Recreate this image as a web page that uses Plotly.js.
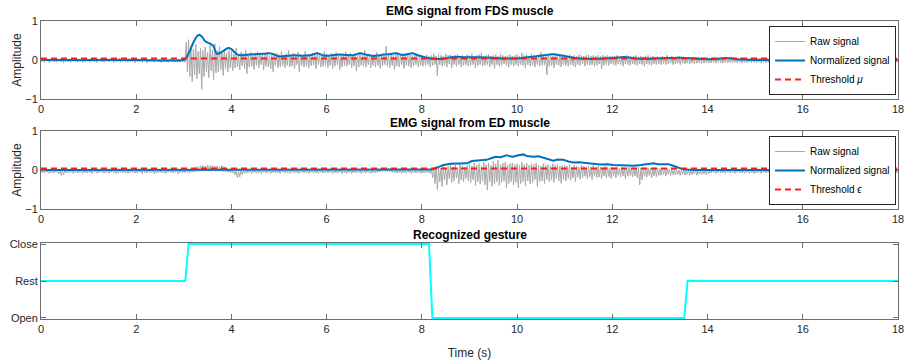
<!DOCTYPE html>
<html>
<head>
<meta charset="utf-8">
<script src="https://cdn.plot.ly/plotly-3.0.1.min.js"></script>
<style>html,body{margin:0;padding:0;background:#fff;}#chart{width:907px;height:360px;}</style>
</head>
<body>
<div id="chart"></div>
<script>
// ---------- DATA ----------
const sampleStep = 0.025; // seconds between raw samples

const rawFDS = [
 0.03,-0.05,0.02,-0.06,0.04,-0.03,0.01,-0.07,0.03,-0.04,0.02,-0.05,0.04,-0.06,0.01,-0.03,0.03,-0.05,0.02,-0.07,0.04,-0.04,0.01,-0.05,0.03,-0.06,0.02,-0.03,0.04,-0.05,0.01,-0.06,0.03,-0.04,0.02,-0.07,0.04,-0.05,0.01,-0.03,
 0.02,-0.06,0.04,-0.04,0.01,-0.05,0.03,-0.07,0.02,-0.03,0.04,-0.05,0.01,-0.06,0.03,-0.04,0.02,-0.05,0.04,-0.03,0.01,-0.07,0.03,-0.05,0.02,-0.04,0.04,-0.06,0.01,-0.03,0.03,-0.05,0.02,-0.06,0.04,-0.04,0.01,-0.05,0.03,-0.07,
 0.04,-0.05,0.01,-0.04,0.03,-0.06,0.02,-0.03,0.04,-0.07,0.01,-0.05,0.03,-0.04,0.02,-0.06,0.04,-0.03,0.01,-0.05,0.03,-0.07,0.02,-0.04,0.04,-0.05,0.01,-0.06,0.03,-0.03,0.02,-0.05,0.04,-0.04,0.01,-0.06,0.03,-0.05,0.02,-0.04,
 0.03,-0.06,0.45,-0.30,0.52,-0.42,0.35,-0.55,0.28,-0.38,0.40,-0.48,0.22,-0.35,0.30,-0.75,0.25,-0.42,0.33,-0.30,0.20,-0.45,0.38,-0.28,0.26,-0.50,0.42,-0.33,0.24,-0.30,0.35,-0.25,0.20,-0.40,0.28,-0.22,0.18,-0.30,0.25,-0.20,
 0.22,-0.28,0.15,-0.20,0.30,-0.18,0.12,-0.25,0.20,-0.15,0.18,-0.22,0.25,-0.35,0.14,-0.18,0.20,-0.16,0.12,-0.24,0.18,-0.14,0.22,-0.20,0.15,-0.12,0.18,-0.26,0.14,-0.16,0.20,-0.18,0.12,-0.22,0.16,-0.30,0.14,-0.15,0.18,-0.20,
 0.14,-0.18,0.22,-0.15,0.12,-0.20,0.16,-0.14,0.25,-0.18,0.12,-0.16,0.18,-0.22,0.14,-0.12,0.20,-0.30,0.15,-0.14,0.12,-0.18,0.22,-0.16,0.14,-0.20,0.12,-0.15,0.18,-0.14,0.16,-0.22,0.20,-0.12,0.14,-0.18,0.12,-0.16,0.22,-0.14,
 0.16,-0.20,0.12,-0.14,0.18,-0.22,0.14,-0.16,0.20,-0.12,0.15,-0.25,0.12,-0.18,0.16,-0.14,0.22,-0.16,0.14,-0.12,0.18,-0.20,0.12,-0.15,0.16,-0.28,0.14,-0.18,0.20,-0.14,0.12,-0.16,0.25,-0.18,0.14,-0.12,0.16,-0.20,0.12,-0.14,
 0.15,-0.18,0.20,-0.14,0.12,-0.22,0.16,-0.15,0.18,-0.12,0.35,-0.16,0.14,-0.20,0.18,-0.14,0.12,-0.24,0.16,-0.15,0.20,-0.18,0.14,-0.12,0.16,-0.22,0.12,-0.14,0.18,-0.16,0.14,-0.20,0.12,-0.15,0.16,-0.12,0.14,-0.18,0.10,-0.14,
 0.12,-0.16,0.10,-0.14,0.14,-0.12,0.10,-0.18,0.12,-0.14,0.16,-0.12,0.10,-0.40,0.14,-0.12,0.12,-0.16,0.10,-0.14,0.16,-0.18,0.12,-0.10,0.14,-0.20,0.10,-0.12,0.12,-0.16,0.14,-0.12,0.10,-0.18,0.12,-0.14,0.10,-0.12,0.14,-0.16,
 0.12,-0.14,0.16,-0.12,0.10,-0.20,0.12,-0.14,0.14,-0.12,0.18,-0.16,0.10,-0.14,0.12,-0.12,0.14,-0.18,0.10,-0.12,0.12,-0.22,0.14,-0.12,0.10,-0.16,0.16,-0.14,0.12,-0.10,0.10,-0.14,0.12,-0.18,0.14,-0.12,0.10,-0.16,0.12,-0.12,
 0.14,-0.16,0.10,-0.12,0.18,-0.14,0.12,-0.20,0.14,-0.12,0.10,-0.16,0.16,-0.14,0.12,-0.18,0.10,-0.12,0.14,-0.16,0.20,-0.14,0.12,-0.12,0.10,-0.38,0.14,-0.16,0.12,-0.14,0.10,-0.20,0.16,-0.12,0.12,-0.14,0.14,-0.18,0.10,-0.12,
 0.12,-0.14,0.10,-0.16,0.14,-0.12,0.10,-0.14,0.12,-0.18,0.10,-0.12,0.14,-0.14,0.12,-0.10,0.10,-0.16,0.12,-0.12,0.14,-0.14,0.10,-0.12,0.12,-0.16,0.10,-0.14,0.12,-0.10,0.10,-0.22,0.12,-0.14,0.10,-0.12,0.12,-0.14,0.10,-0.10,
 0.10,-0.12,0.08,-0.14,0.12,-0.10,0.08,-0.12,0.10,-0.16,0.08,-0.10,0.12,-0.12,0.10,-0.14,0.08,-0.10,0.10,-0.12,0.12,-0.14,0.08,-0.10,0.10,-0.12,0.08,-0.16,0.10,-0.10,0.12,-0.12,0.08,-0.14,0.10,-0.10,0.08,-0.12,0.10,-0.10,
 0.08,-0.12,0.10,-0.10,0.08,-0.12,0.12,-0.10,0.08,-0.08,0.10,-0.12,0.06,-0.10,0.08,-0.08,0.10,-0.12,0.06,-0.08,0.08,-0.10,0.06,-0.08,0.08,-0.10,0.06,-0.08,0.07,-0.10,0.06,-0.08,0.08,-0.07,0.06,-0.09,0.07,-0.08,0.06,-0.07,
 0.06,-0.08,0.05,-0.07,0.06,-0.06,0.05,-0.08,0.07,-0.06,0.05,-0.07,0.04,-0.08,0.06,-0.06,0.05,-0.07,0.04,-0.06,0.06,-0.08,0.05,-0.06,0.04,-0.07,0.05,-0.06,0.06,-0.08,0.04,-0.06,0.05,-0.07,0.04,-0.06,0.05,-0.07,0.04,-0.06,
 0.05,-0.07,0.04,-0.06,0.05,-0.08,0.04,-0.06,0.03,-0.07,0.05,-0.06,0.04,-0.07,0.05,-0.06,0.03,-0.08,0.04,-0.06,0.05,-0.07,0.04,-0.06,0.03,-0.07,0.05,-0.06,0.04,-0.08,0.03,-0.06,0.05,-0.07,0.04,-0.06,0.03,-0.07,0.04,-0.06,
 0.04,-0.07,0.05,-0.06,0.03,-0.08,0.04,-0.06,0.05,-0.07,0.03,-0.06,0.04,-0.07,0.05,-0.06,0.03,-0.08,0.04,-0.06,0.05,-0.07,0.03,-0.06,0.04,-0.07,0.05,-0.06,0.03,-0.07,0.04,-0.08,0.05,-0.06,0.03,-0.07,0.04,-0.06,0.05,-0.07,
 0.03,-0.06,0.04,-0.07,0.05,-0.06,0.03,-0.08,0.04,-0.06,0.05,-0.07,0.03,-0.06,0.04,-0.07,0.05,-0.08,0.03,-0.06,0.04,-0.07,0.05,-0.06,0.03,-0.07,0.04,-0.06,0.05,-0.08,0.03,-0.06,0.04,-0.07,0.05,-0.06,0.03,-0.07,0.04,-0.06,
 0.0
];

const rawED = [
 -0.01,-0.07,0.01,-0.08,-0.02,-0.06,0.00,-0.09,-0.01,-0.07,0.01,-0.08,-0.02,-0.06,-0.01,-0.10,0.00,-0.14,-0.02,-0.12,-0.01,-0.07,0.01,-0.08,-0.02,-0.06,0.00,-0.09,-0.01,-0.07,0.01,-0.08,-0.02,-0.06,-0.01,-0.09,0.00,-0.07,-0.02,-0.08,
 0.01,-0.07,-0.01,-0.09,0.00,-0.06,-0.02,-0.08,0.01,-0.07,-0.01,-0.06,0.00,-0.09,-0.02,-0.07,0.01,-0.08,-0.01,-0.06,0.00,-0.07,-0.02,-0.09,0.01,-0.08,-0.01,-0.06,0.00,-0.07,-0.02,-0.08,0.01,-0.09,-0.01,-0.07,0.00,-0.06,-0.02,-0.08,
 0.00,-0.08,0.01,-0.06,-0.01,-0.09,0.00,-0.07,-0.02,-0.08,0.01,-0.06,-0.01,-0.07,0.00,-0.09,0.01,-0.08,-0.02,-0.06,0.00,-0.07,-0.01,-0.08,0.01,-0.09,-0.02,-0.06,0.00,-0.07,0.01,-0.08,-0.01,-0.06,0.00,-0.09,-0.02,-0.07,0.01,-0.08,
 0.00,-0.07,0.01,-0.06,-0.01,-0.08,0.02,-0.05,0.03,-0.06,0.06,-0.04,0.09,-0.03,0.11,-0.02,0.12,-0.03,0.10,-0.01,0.13,-0.02,0.11,-0.03,0.12,-0.02,0.10,-0.04,0.11,-0.03,0.09,-0.02,0.12,-0.04,0.08,-0.05,0.05,-0.06,0.02,-0.07,
 0.00,-0.08,-0.02,-0.12,-0.03,-0.20,-0.04,-0.18,-0.02,-0.12,0.00,-0.09,-0.01,-0.08,0.01,-0.07,-0.02,-0.09,0.00,-0.06,-0.01,-0.08,0.01,-0.07,-0.02,-0.09,0.00,-0.06,-0.01,-0.08,0.01,-0.07,0.00,-0.09,-0.02,-0.06,0.01,-0.08,-0.01,-0.07,
 0.00,-0.09,0.01,-0.06,-0.01,-0.08,0.00,-0.07,-0.02,-0.09,0.01,-0.06,0.00,-0.08,-0.01,-0.07,0.01,-0.09,-0.02,-0.06,0.00,-0.08,0.01,-0.07,-0.01,-0.09,0.00,-0.06,-0.02,-0.08,0.01,-0.07,0.00,-0.09,-0.01,-0.06,0.01,-0.08,-0.02,-0.07,
 0.01,-0.08,-0.01,-0.06,0.00,-0.09,-0.02,-0.07,0.01,-0.08,0.00,-0.06,-0.01,-0.09,0.01,-0.07,-0.02,-0.08,0.00,-0.06,0.01,-0.09,-0.01,-0.07,0.00,-0.08,-0.02,-0.06,0.01,-0.09,0.00,-0.07,-0.01,-0.08,0.01,-0.06,-0.02,-0.09,0.00,-0.07,
 -0.01,-0.08,0.01,-0.06,0.02,-0.05,0.04,-0.04,0.05,-0.03,0.06,-0.04,0.05,-0.05,0.04,-0.06,0.02,-0.07,0.00,-0.08,-0.01,-0.06,0.01,-0.09,0.00,-0.07,-0.02,-0.08,0.01,-0.06,0.00,-0.09,-0.01,-0.07,0.01,-0.08,-0.02,-0.06,0.00,-0.09,
 0.01,-0.07,-0.01,-0.08,0.00,-0.06,-0.02,-0.09,0.04,-0.20,0.06,-0.35,0.10,-0.50,0.08,-0.30,0.05,-0.42,0.12,-0.25,0.06,-0.38,0.10,-0.22,0.14,-0.32,0.08,-0.28,0.12,-0.20,0.06,-0.35,0.15,-0.26,0.10,-0.30,0.08,-0.22,0.12,-0.28,
 0.14,-0.32,0.10,-0.25,0.18,-0.40,0.12,-0.30,0.16,-0.35,0.10,-0.28,0.20,-0.38,0.14,-0.51,0.18,-0.30,0.12,-0.42,0.22,-0.35,0.16,-0.30,0.25,-0.40,0.14,-0.32,0.18,-0.28,0.20,-0.45,0.12,-0.35,0.16,-0.30,0.18,-0.38,0.14,-0.32,
 0.16,-0.45,0.12,-0.35,0.20,-0.30,0.14,-0.40,0.18,-0.28,0.12,-0.36,0.16,-0.32,0.14,-0.25,0.18,-0.42,0.12,-0.30,0.10,-0.28,0.16,-0.35,0.12,-0.24,0.14,-0.30,0.10,-0.26,0.16,-0.32,0.12,-0.22,0.14,-0.28,0.10,-0.34,0.12,-0.25,
 0.12,-0.28,0.10,-0.22,0.14,-0.26,0.08,-0.20,0.12,-0.30,0.10,-0.18,0.08,-0.24,0.12,-0.20,0.10,-0.16,0.06,-0.22,0.10,-0.18,0.08,-0.25,0.12,-0.16,0.06,-0.20,0.10,-0.18,0.08,-0.22,0.06,-0.15,0.10,-0.20,0.08,-0.17,0.06,-0.22,
 0.08,-0.16,0.06,-0.20,0.08,-0.14,0.05,-0.18,0.07,-0.15,0.04,-0.22,0.06,-0.16,0.08,-0.14,0.05,-0.18,0.06,-0.15,0.04,-0.20,0.08,-0.38,0.05,-0.25,0.06,-0.16,0.04,-0.18,0.06,-0.14,0.05,-0.20,0.04,-0.15,0.06,-0.17,0.04,-0.14,
 0.04,-0.14,0.05,-0.12,0.03,-0.16,0.04,-0.11,0.02,-0.14,0.03,-0.12,0.01,-0.13,0.02,-0.11,0.00,-0.14,-0.01,-0.12,0.00,-0.13,-0.02,-0.11,0.00,-0.14,-0.01,-0.12,-0.02,-0.10,0.00,-0.13,-0.01,-0.11,-0.02,-0.12,0.00,-0.10,-0.01,-0.12,
 0.00,-0.09,-0.01,-0.08,0.01,-0.07,0.00,-0.09,-0.02,-0.06,0.01,-0.08,0.00,-0.07,-0.01,-0.09,0.01,-0.06,0.00,-0.08,-0.02,-0.07,0.01,-0.09,0.00,-0.06,-0.01,-0.08,0.01,-0.07,0.00,-0.09,-0.02,-0.06,0.01,-0.08,0.00,-0.07,-0.01,-0.09,
 0.01,-0.08,0.00,-0.06,-0.01,-0.09,0.01,-0.07,0.00,-0.08,-0.02,-0.06,0.01,-0.09,0.00,-0.07,-0.01,-0.08,0.01,-0.06,0.00,-0.09,-0.02,-0.07,0.01,-0.08,0.00,-0.06,-0.01,-0.09,0.01,-0.07,0.00,-0.08,-0.02,-0.06,0.01,-0.09,0.00,-0.07,
 -0.01,-0.08,0.01,-0.06,0.00,-0.09,-0.02,-0.07,0.01,-0.08,0.00,-0.06,-0.01,-0.09,0.01,-0.07,-0.02,-0.08,0.00,-0.06,0.01,-0.09,-0.01,-0.07,0.00,-0.08,-0.02,-0.06,0.01,-0.09,0.00,-0.07,-0.01,-0.08,0.01,-0.06,-0.02,-0.09,0.00,-0.07,
 0.01,-0.08,-0.01,-0.06,0.00,-0.09,0.01,-0.07,-0.02,-0.08,0.00,-0.06,0.01,-0.09,-0.01,-0.07,0.00,-0.08,-0.02,-0.06,0.01,-0.09,0.00,-0.07,-0.01,-0.08,0.01,-0.06,0.00,-0.09,-0.02,-0.07,0.01,-0.08,0.00,-0.06,-0.01,-0.09,0.01,-0.07,
 -0.03
];

const normFDSTime = [0,1,2,3.0,3.05,3.12,3.2,3.27,3.32,3.38,3.45,3.55,3.62,3.69,3.76,3.85,3.93,4.0,4.08,4.15,4.25,4.35,4.5,4.65,4.8,4.9,5.0,5.1,5.3,5.5,5.65,5.8,5.95,6.1,6.25,6.4,6.55,6.7,6.85,7.0,7.15,7.3,7.45,7.6,7.8,7.95,8.1,8.25,8.45,8.65,8.9,9.2,9.45,9.7,10.0,10.3,10.5,10.75,11.0,11.3,11.7,12.0,12.25,12.5,12.8,13.1,13.45,13.8,14.1,14.4,14.7,15.0,16,17,18];
const normFDS = [0.0,0.0,0.0,0.0,0.05,0.22,0.45,0.60,0.65,0.60,0.48,0.42,0.36,0.16,0.18,0.25,0.31,0.28,0.18,0.13,0.12,0.14,0.15,0.16,0.17,0.14,0.09,0.10,0.12,0.11,0.12,0.17,0.11,0.12,0.14,0.13,0.12,0.17,0.13,0.10,0.13,0.15,0.17,0.13,0.17,0.11,0.06,0.03,0.03,0.08,0.07,0.07,0.06,0.04,0.04,0.08,0.11,0.15,0.10,0.04,0.03,0.05,0.08,0.04,0.03,0.05,0.06,0.03,0.02,0.05,0.01,0.0,0.0,0.0,0.0];

const normEDTime = [0,4,8.0,8.2,8.3,8.45,8.6,8.8,8.95,9.05,9.2,9.36,9.45,9.55,9.65,9.78,9.85,9.92,10.0,10.13,10.2,10.34,10.45,10.55,10.65,10.76,10.85,10.97,11.08,11.18,11.3,11.47,11.6,11.74,11.9,12.02,12.2,12.44,12.6,12.75,12.86,12.95,13.07,13.18,13.28,13.4,13.5,13.7,14,16,18];
const normED = [0.0,0.0,0.0,0.01,0.05,0.13,0.16,0.17,0.17,0.23,0.24,0.26,0.30,0.34,0.33,0.38,0.35,0.34,0.37,0.40,0.36,0.34,0.35,0.32,0.28,0.24,0.27,0.26,0.22,0.19,0.20,0.17,0.16,0.14,0.15,0.13,0.12,0.11,0.13,0.16,0.17,0.15,0.14,0.15,0.11,0.06,0.01,0.0,0.0,0.0,0.0];

const thresholdTime = [0, 18];
const thresholdMu = [0.04, 0.04];
const thresholdEps = [0.04, 0.04];

const gestureTime = [0, 3.03, 3.10, 8.15, 8.22, 13.51, 13.58, 18];
const gestureState = [0, 0, 1, 1, -1, -1, 0, 0];
const gestureTickVals = [-1, 0, 1];
const gestureTickText = ['Open', 'Rest', 'Close'];

const xTicks = [0, 2, 4, 6, 8, 10, 12, 14, 16, 18];
const ampTicks = [-1, 0, 1];

const titles = ['EMG signal from FDS muscle', 'EMG signal from ED muscle', 'Recognized gesture'];

// ---------- BUILD ----------
const rawTime = rawFDS.map((_, i) => +(i * sampleStep).toFixed(3));
const rawTimeED = rawED.map((_, i) => +(i * sampleStep).toFixed(3));

const FONT = 'Liberation Sans, Arial, Helvetica, sans-serif';
const GRAY = '#a9a9a9', BLUE = '#0072BD', RED = '#FF1A1A', CYAN = '#00FFFF';
const AX = '#6e6e6e', TXT = '#262626';

const traces = [
  {x: rawTime, y: rawFDS, xaxis: 'x', yaxis: 'y', type: 'scatter', mode: 'lines', name: 'Raw signal',
   line: {color: GRAY, width: 1}, legend: 'legend'},
  {x: normFDSTime, y: normFDS, xaxis: 'x', yaxis: 'y', type: 'scatter', mode: 'lines', name: 'Normalized signal',
   line: {color: BLUE, width: 2, shape: 'spline', smoothing: 0.6}, legend: 'legend'},
  {x: thresholdTime, y: thresholdMu, xaxis: 'x', yaxis: 'y', type: 'scatter', mode: 'lines', name: 'Threshold <i>μ</i>',
   line: {color: RED, width: 2, dash: '6px,4px'}, legend: 'legend'},

  {x: rawTimeED, y: rawED, xaxis: 'x2', yaxis: 'y2', type: 'scatter', mode: 'lines', name: 'Raw signal',
   line: {color: GRAY, width: 1}, legend: 'legend2'},
  {x: normEDTime, y: normED, xaxis: 'x2', yaxis: 'y2', type: 'scatter', mode: 'lines', name: 'Normalized signal',
   line: {color: BLUE, width: 2}, legend: 'legend2'},
  {x: thresholdTime, y: thresholdEps, xaxis: 'x2', yaxis: 'y2', type: 'scatter', mode: 'lines', name: 'Threshold <i>ϵ</i>',
   line: {color: RED, width: 2, dash: '6px,4px'}, legend: 'legend2'},

  {x: gestureTime, y: gestureState, xaxis: 'x3', yaxis: 'y3', type: 'scatter', mode: 'lines', name: 'Gesture',
   line: {color: CYAN, width: 2}, showlegend: false}
];

function xAxis(anchor, title) {
  const a = {
    domain: [0, 1], anchor: anchor, range: [0, 18], tickvals: xTicks, ticks: 'inside', ticklen: 5,
    tickcolor: AX, tickwidth: 1, showline: true, linecolor: AX, linewidth: 1, mirror: 'ticks',
    showgrid: false, zeroline: false, tickfont: {family: FONT, size: 11, color: TXT}, fixedrange: true
  };
  if (title) a.title = {text: title, font: {family: FONT, size: 12, color: TXT}, standoff: 14};
  return a;
}
function yAxis(anchor, domain, extra) {
  return Object.assign({
    domain: domain, anchor: anchor, range: [-1, 1], tickvals: ampTicks, ticks: 'inside', ticklen: 5,
    tickcolor: AX, tickwidth: 1, showline: true, linecolor: AX, linewidth: 1, mirror: 'ticks',
    showgrid: false, zeroline: false, tickfont: {family: FONT, size: 11, color: TXT}, fixedrange: true
  }, extra || {});
}

const plotTop = 21, plotBot = 319, plotH = plotBot - plotTop;
const py = px => (plotBot - px) / plotH;

const legendCommon = {
  xref: 'paper', yref: 'paper', xanchor: 'right', yanchor: 'top',
  bgcolor: '#ffffff', bordercolor: '#262626', borderwidth: 1,
  font: {family: FONT, size: 10, color: '#000'}, tracegroupgap: 0, itemwidth: 30
};

const ampTitle = {text: 'Amplitude', font: {family: FONT, size: 12, color: TXT}, standoff: 1};

const layout = {
  width: 907, height: 360,
  margin: {l: 41, r: 9, t: plotTop, b: 360 - plotBot},
  paper_bgcolor: '#fff', plot_bgcolor: '#fff',
  font: {family: FONT, size: 11, color: TXT},
  xaxis: xAxis('y'),
  xaxis2: xAxis('y2'),
  xaxis3: xAxis('y3', 'Time (s)'),
  yaxis: yAxis('x', [py(99), 1], {title: ampTitle}),
  yaxis2: yAxis('x2', [py(209), py(131)], {title: ampTitle}),
  yaxis3: yAxis('x3', [0, py(243)], {range: [-1.03, 1.03], tickvals: gestureTickVals, ticktext: gestureTickText}),
  legend: Object.assign({x: 0.9977, y: py(26)}, legendCommon),
  legend2: Object.assign({x: 0.9977, y: py(136)}, legendCommon),
  annotations: titles.map((t, i) => ({
    text: '<b>' + t + '</b>', xref: 'paper', yref: 'paper', x: 0.5, y: py([11, 123, 235][i]),
    xanchor: 'center', yanchor: 'middle', showarrow: false, font: {family: FONT, size: 12, color: '#000'}
  })),
  showlegend: true
};

Plotly.newPlot('chart', traces, layout, {displayModeBar: false, staticPlot: true});
</script>
</body>
</html>
